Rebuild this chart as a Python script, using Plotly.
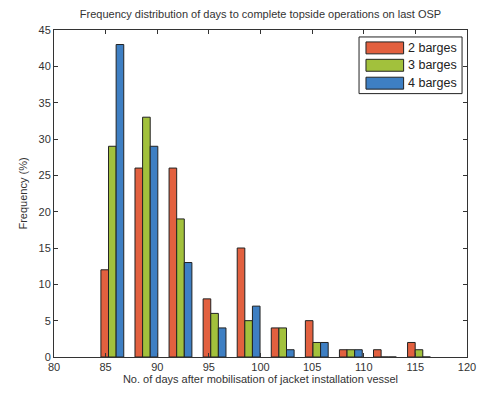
import plotly.graph_objects as go

# Histogram bin centres (days after mobilisation of jacket installation vessel)
bin_centres = [85.65, 88.95, 92.25, 95.55, 98.85, 102.15, 105.45, 108.75, 112.05, 115.35]

# Frequency (%) per bin for each fleet size
two_barges = [12, 26, 26, 8, 15, 4, 5, 1, 1, 2]
three_barges = [29, 33, 19, 6, 5, 4, 2, 1, 0, 1]
four_barges = [43, 29, 13, 4, 7, 1, 2, 1, 0, 0]

series_names = ["2 barges", "3 barges", "4 barges"]
series_values = [two_barges, three_barges, four_barges]
series_colours = ["#E2603F", "#A2C13C", "#3E7FC3"]

font_family = "Liberation Sans, Arial, sans-serif"
text_colour = "#333333"
edge_colour = "#222222"

# Figure geometry (pixels)
W, H = 488, 396
M_L, M_R, M_T, M_B = 54, 17, 30, 37
plot_w = W - M_L - M_R
plot_h = H - M_T - M_B


def px_x(px):
    return (px - M_L) / plot_w


def px_y(py):
    return (H - M_B - py) / plot_h


fig = go.Figure()
for name, values, colour in zip(series_names, series_values, series_colours):
    fig.add_trace(go.Bar(
        x=bin_centres,
        y=values,
        name=name,
        showlegend=False,
        marker=dict(color=colour, line=dict(color=edge_colour, width=1)),
    ))

axis_common = dict(
    showline=True,
    linecolor=text_colour,
    linewidth=1,
    mirror="ticks",
    ticks="inside",
    ticklen=4,
    tickcolor=text_colour,
    showgrid=False,
    zeroline=False,
    tickfont=dict(family=font_family, size=11, color=text_colour),
)

# Boxed legend in the upper-right corner of the axes
shapes = [dict(
    type="rect", xref="paper", yref="paper",
    x0=px_x(362), x1=px_x(466), y0=px_y(94), y1=px_y(37),
    line=dict(color=edge_colour, width=1), fillcolor="white", layer="above",
)]
annotations = []
row_centres = [48, 65.5, 83.5]
for name, colour, cy in zip(series_names, series_colours, row_centres):
    shapes.append(dict(
        type="rect", xref="paper", yref="paper",
        x0=px_x(369), x1=px_x(407), y0=px_y(cy + 6), y1=px_y(cy - 6),
        line=dict(color=edge_colour, width=1), fillcolor=colour, layer="above",
    ))
    annotations.append(dict(
        text=name, xref="paper", yref="paper",
        x=px_x(409), y=px_y(cy), xanchor="left", yanchor="middle",
        showarrow=False,
        font=dict(family=font_family, size=12.5, color=edge_colour),
    ))

fig.update_layout(
    width=W,
    height=H,
    margin=dict(l=M_L, r=M_R, t=M_T, b=M_B),
    paper_bgcolor="white",
    plot_bgcolor="white",
    barmode="group",
    bargap=0.33,
    bargroupgap=0,
    showlegend=False,
    font=dict(family=font_family, size=11, color=text_colour),
    title=dict(
        text="Frequency distribution of days to complete topside operations on last OSP",
        x=0.5,
        xref="paper",
        xanchor="center",
        y=1 - 14 / H,
        yanchor="middle",
        font=dict(family=font_family, size=11, color=text_colour),
    ),
    xaxis=dict(
        range=[80, 120],
        dtick=5,
        tick0=80,
        title=dict(text="No. of days after mobilisation of jacket installation vessel",
                   standoff=3,
                   font=dict(family=font_family, size=11, color=text_colour)),
        **axis_common,
    ),
    yaxis=dict(
        range=[0, 45],
        dtick=5,
        tick0=0,
        title=dict(text="Frequency (%)", standoff=8,
                   font=dict(family=font_family, size=11, color=text_colour)),
        **axis_common,
    ),
    shapes=shapes,
    annotations=annotations,
)

fig.write_html("out.html")
